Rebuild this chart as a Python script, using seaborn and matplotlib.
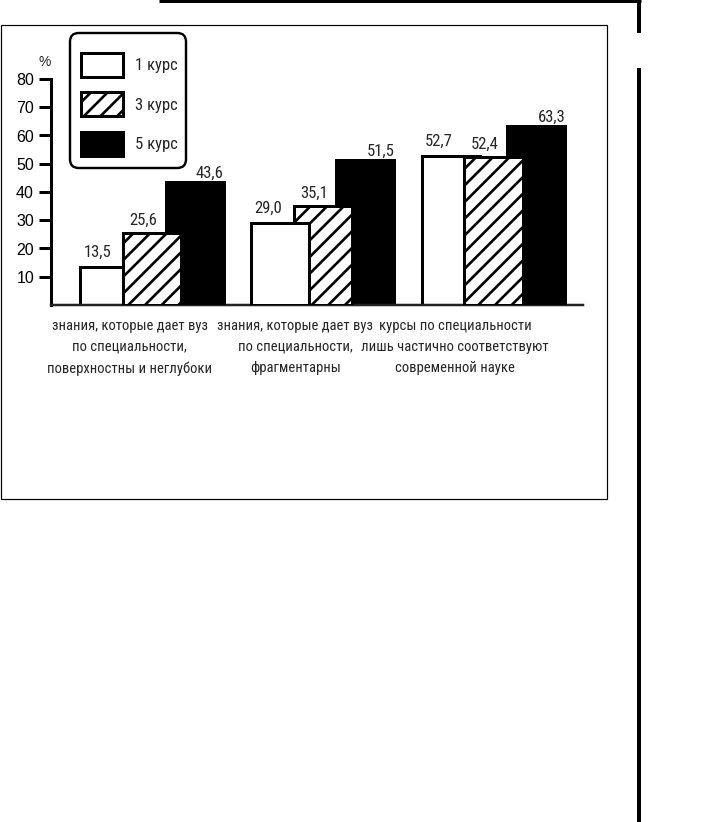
import numpy as np
import pandas as pd
import seaborn as sns
import matplotlib
matplotlib.use("Agg")
import matplotlib.pyplot as plt
from matplotlib.lines import Line2D
from matplotlib.patches import Rectangle, FancyBboxPatch

# ---------------- data ----------------
categories = [
    "знания, которые дает вуз\nпо специальности,\nповерхностны и неглубоки",
    "знания, которые дает вуз\nпо специальности,\nфрагментарны",
    "курсы по специальности\nлишь частично соответствуют\nсовременной науке",
]
courses = ["1 курс", "3 курс", "5 курс"]
values_1 = [13.5, 29.0, 52.7]
values_3 = [25.6, 35.1, 52.4]
values_5 = [43.6, 51.5, 63.3]
y_ticks = [10, 20, 30, 40, 50, 60, 70, 80]

series = {"1 курс": values_1, "3 курс": values_3, "5 курс": values_5}
rows = []
for c in courses:
    for i, cat in enumerate(categories):
        rows.append({"cat": cat, "course": c, "value": series[c][i]})
df = pd.DataFrame(rows)

# ---------------- style ----------------
sns.set_style("white")
NARROW = ["Liberation Sans Narrow", "Roboto Condensed", "Liberation Sans", "DejaVu Sans"]
REGULAR = ["Liberation Sans", "DejaVu Sans"]
plt.rcParams["font.family"] = NARROW
plt.rcParams["hatch.linewidth"] = 1.9
plt.rcParams["hatch.color"] = "black"

W, H = 727, 822
fig = plt.figure(figsize=(W / 100, H / 100), dpi=100)
PX = 72 / 100  # points per pixel

def fx(x):
    return x / W

def fy(y):
    return 1 - y / H

ax = fig.add_axes([fx(51), fy(305), fx(583) - fx(51), fy(79) - fy(305)])

palette = {"1 курс": "white", "3 курс": "white", "5 курс": "black"}
sns.barplot(data=df, x="cat", y="value", hue="course", hue_order=courses,
            order=categories, palette=palette, width=0.75, dodge=True,
            edgecolor="black", linewidth=3 * PX, saturation=1, legend=False,
            errorbar=None, ax=ax)

bar_w = 0.34
# front order per group (higher zorder = in front)
front = [
    {"1 курс": 2, "3 курс": 4, "5 курс": 3},
    {"1 курс": 4, "3 курс": 3, "5 курс": 2},
    {"1 курс": 2, "3 курс": 4, "5 курс": 3},
]
for ci, (cont, c) in enumerate(zip(ax.containers, courses)):
    for gi, p in enumerate(cont.patches):
        cx = p.get_x() + p.get_width() / 2
        p.set_x(cx - bar_w / 2)
        p.set_width(bar_w)
        p.set_zorder(front[gi][c])
        if c == "3 курс":
            p.set_hatch("//")
        p.set_edgecolor("black")

ax.set_xlim(-0.5915, 2.524)
ax.set_ylim(0, 80)
ax.set_yticks(y_ticks)
ax.set_yticklabels([str(t) for t in y_ticks], fontsize=11.5, family=REGULAR)
ax.tick_params(axis="y", left=True, length=12 * PX, width=3 * PX, pad=5 * PX,
               colors="black")
ax.tick_params(axis="x", bottom=False, labelbottom=False)
ax.set_xlabel("")
ax.set_ylabel("")
for s in ["top", "right"]:
    ax.spines[s].set_visible(False)
ax.spines["left"].set_linewidth(3 * PX)
ax.spines["left"].set_color("black")
ax.spines["bottom"].set_linewidth(2.5 * PX)
ax.spines["bottom"].set_color("#222222")

# value labels
for c, cont in zip(courses, ax.containers):
    for p, v in zip(cont.patches, series[c]):
        txt = f"{v:.1f}".replace(".", ",")
        top = p.get_height()
        if c == "1 курс":
            ax.annotate(txt, (p.get_x(), top), xytext=(3 * PX, 10 * PX),
                        textcoords="offset points", ha="left", va="baseline",
                        fontsize=12, zorder=6)
        elif c == "3 курс":
            ax.annotate(txt, (p.get_x() + bar_w / 2, top), xytext=(-9 * PX, 8 * PX),
                        textcoords="offset points", ha="center", va="baseline",
                        fontsize=12, zorder=6)
        else:
            ax.annotate(txt, (p.get_x() + bar_w, top), xytext=(0, 4 * PX),
                        textcoords="offset points", ha="right", va="baseline",
                        fontsize=12, zorder=6)

# category labels
label_shift = [-0.13, -0.16, -0.225]
for i, cat in enumerate(categories):
    ax.text(i + label_shift[i], -5.0, cat, ha="center", va="top",
            multialignment="center", fontsize=10.5, linespacing=1.62,
            transform=ax.transData, clip_on=False)

# % label
fig.text(fx(45), fy(62), "%", ha="center", va="center", fontsize=10,
         family=REGULAR)

# legend (content placed at patch top-left; frame drawn separately)
handles = [ax.containers[i].patches[0] for i in range(3)]
LFS = 12
lfs_px = LFS / PX
leg = fig.legend(handles, courses, loc="upper left",
                 bbox_to_anchor=(fx(81), fy(53)), bbox_transform=fig.transFigure,
                 fontsize=LFS, handlelength=42 / lfs_px, handleheight=30.6 / lfs_px,
                 labelspacing=15.5 / lfs_px, handletextpad=12 / lfs_px, borderpad=0,
                 borderaxespad=0, frameon=False)
fig.add_artist(FancyBboxPatch((fx(70), fy(168)), fx(186) - fx(70), fy(33) - fy(168),
                              boxstyle="round,pad=0,rounding_size=0.012",
                              transform=fig.transFigure, facecolor="white",
                              edgecolor="black", linewidth=2.4 * PX, zorder=0.5,
                              mutation_aspect=W / H))

# decorations: frame box and page lines
fig.add_artist(Rectangle((fx(1), fy(499)), fx(607) - fx(1), fy(25) - fy(499),
                         transform=fig.transFigure, fill=False,
                         edgecolor="black", linewidth=1.2 * PX))
fig.add_artist(Line2D([fx(159), fx(641)], [fy(1.5), fy(1.5)],
                      transform=fig.transFigure, color="black", linewidth=3 * PX,
                      solid_capstyle="butt"))
fig.add_artist(Line2D([fx(639), fx(639)], [fy(0), fy(33)],
                      transform=fig.transFigure, color="black", linewidth=4 * PX,
                      solid_capstyle="butt"))
fig.add_artist(Line2D([fx(639), fx(639)], [fy(68), fy(822)],
                      transform=fig.transFigure, color="black", linewidth=4 * PX,
                      solid_capstyle="butt"))

fig.savefig("out.png", dpi=100, facecolor="white")
